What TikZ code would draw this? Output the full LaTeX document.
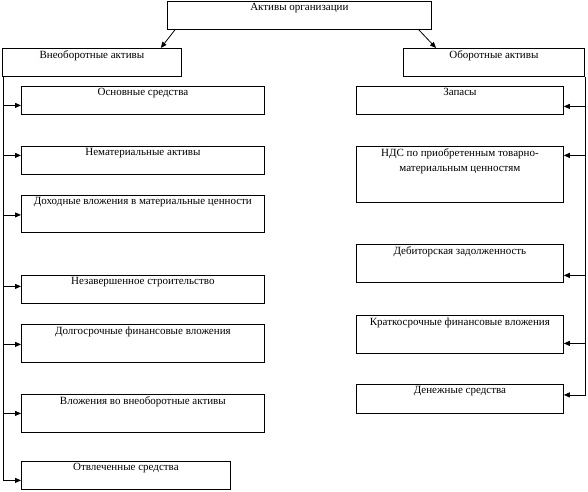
\documentclass[tikz,border=0pt]{standalone}
\usepackage{fontspec}
\setmainfont{Liberation Serif}
\usetikzlibrary{arrows.meta,calc}
\begin{document}
\begin{tikzpicture}[x=1pt,y=-1pt,
  box/.style={draw,line width=0.8pt,inner sep=0pt,anchor=north west,fill=white},
  lab/.style={anchor=north,inner sep=0pt,yshift=-2.5pt,font=\fontsize{11}{14.5}\selectfont,align=center},
  arr/.style={line width=0.8pt,-{Triangle[length=6pt,width=5pt]}},
  ln/.style={line width=0.8pt}]
\useasboundingbox (0,0) rectangle (588,491);
% top
\node[box,minimum width=264pt,minimum height=28pt,label={[lab]north:Активы организации}] (top) at (167,1) {};
\node[box,minimum width=179pt,minimum height=28pt,label={[lab]north:Внеоборотные активы}] (L) at (2,48) {};
\node[box,minimum width=181pt,minimum height=28pt,label={[lab]north:Оборотные активы}] (R) at (403,48) {};
\draw[arr] ($(top.south west)+(8,0)$) -- ($(L.north east)+(-21,0)$);
\draw[arr] ($(top.south east)+(-13,0)$) -- ($(R.north west)+(33,0)$);
% left boxes
\node[box,minimum width=243pt,minimum height=28pt,label={[lab]north:Основные средства}] (l1) at (21,86) {};
\node[box,minimum width=243pt,minimum height=28pt,label={[lab]north:Нематериальные активы}] (l2) at (21,146) {};
\node[box,minimum width=243pt,minimum height=37pt,label={[lab]north:Доходные вложения в материальные ценности}] (l3) at (21,195) {};
\node[box,minimum width=243pt,minimum height=28pt,label={[lab]north:Незавершенное строительство}] (l4) at (21,275) {};
\node[box,minimum width=243pt,minimum height=38pt,label={[lab]north:Долгосрочные финансовые вложения}] (l5) at (21,324) {};
\node[box,minimum width=243pt,minimum height=38pt,label={[lab]north:Вложения во внеоборотные активы}] (l6) at (21,394) {};
\node[box,minimum width=209pt,minimum height=28pt,label={[lab]north:Отвлеченные средства}] (l7) at (21,461) {};
% right boxes
\node[box,minimum width=207pt,minimum height=28pt,label={[lab]north:Запасы}] (r1) at (356,86) {};
\node[box,minimum width=207pt,minimum height=56pt,label={[lab]north:НДС по приобретенным товарно-\\материальным ценностям}] (r2) at (356,146) {};
\node[box,minimum width=207pt,minimum height=38pt,label={[lab]north:Дебиторская задолженность}] (r3) at (356,244) {};
\node[box,minimum width=207pt,minimum height=38pt,label={[lab]north:Краткосрочные финансовые вложения}] (r4) at (356,315) {};
\node[box,minimum width=207pt,minimum height=29pt,label={[lab]north:Денежные средства}] (r5) at (356,384) {};
% spines
\coordinate (spL) at ($(L.south west)+(1,0)$);
\coordinate (spR) at ($(R.south east)+(1,0)$);
\coordinate (a1) at ([yshift=-5pt]l1.west);
\coordinate (a2) at ([yshift=5pt]l2.west);
\coordinate (a3) at ([yshift=-1pt]l3.west);
\coordinate (a4) at ([yshift=3pt]l4.west);
\coordinate (a5) at ([yshift=-1pt]l5.west);
\coordinate (a6) at (l6.west);
\coordinate (a7) at ([yshift=-5pt]l7.west);
\coordinate (b1) at ([yshift=-6pt]r1.east);
\coordinate (b2) at ([yshift=19pt]r2.east);
\coordinate (b3) at ([yshift=-12pt]r3.east);
\coordinate (b4) at ([yshift=-9pt]r4.east);
\coordinate (b5) at ([yshift=4pt]r5.east);
\draw[ln] (spL) -- (a7 -| spL);
\draw[ln] (spR) -- (b5 -| spR);
\foreach \p in {a1,a2,a3,a4,a5,a6,a7} \draw[arr] (\p -| spL) -- (\p);
\foreach \p in {b1,b2,b3,b4,b5} \draw[arr] (\p -| spR) -- (\p);
\end{tikzpicture}
\end{document}
